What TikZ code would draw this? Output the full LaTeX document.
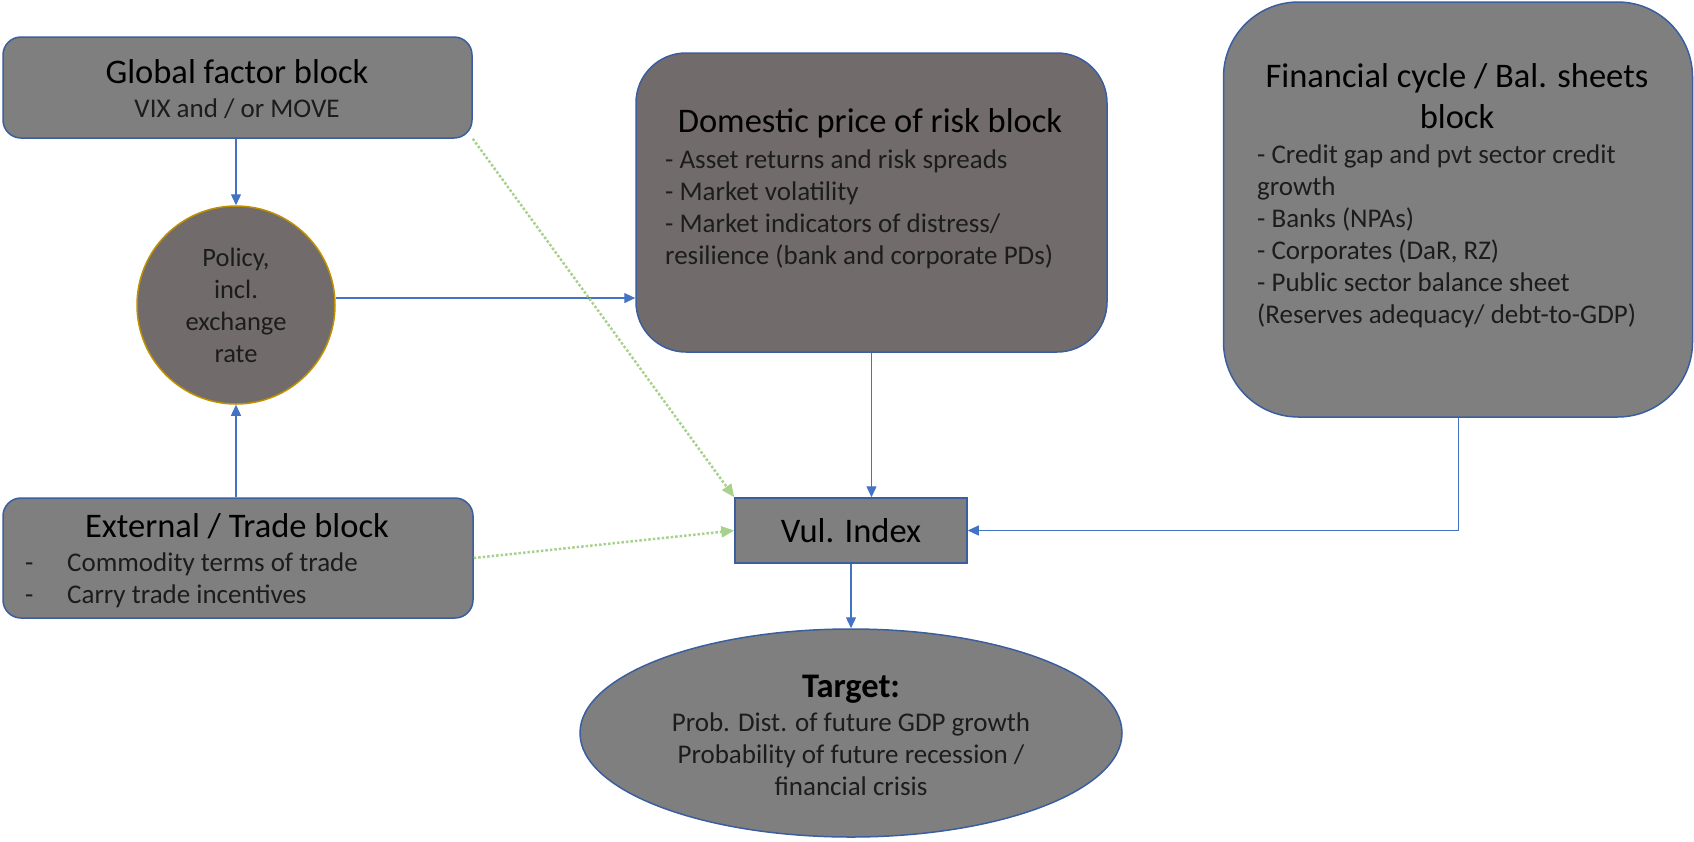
\documentclass[tikz,border=0pt]{standalone}
\usepackage{fontspec}
\setmainfont{Carlito}
\usepackage{tikz}
\usetikzlibrary{arrows.meta,shapes.geometric}
\definecolor{boxgray}{HTML}{7F7F7F}
\definecolor{riskgray}{HTML}{726B6B}
\definecolor{edgeblue}{HTML}{3A5E9E}
\definecolor{linkblue}{HTML}{4472C4}
\definecolor{linkgreen}{HTML}{A9D18E}
\definecolor{ringgold}{HTML}{BF9000}
\definecolor{inkgray}{HTML}{1C1C1C}

\begin{document}
\begin{tikzpicture}[x=1pt, y=-1pt,
  block/.style = {draw=edgeblue, line width=1.5pt, fill=boxgray, inner sep=0pt},
  head/.style = {font=\fontsize{34.5}{41}\selectfont, inner sep=0pt, anchor=base},
  items/.style = {font=\fontsize{27}{32}\selectfont, text=inkgray, align=left, inner sep=0pt, anchor=north west},
  link/.style = {draw=linkblue, line width=1.3pt, -{Triangle[length=11pt,width=10pt]}},
  hint/.style = {draw=linkgreen, line width=2.5pt, dotted, -{Triangle[length=13pt,width=11pt]}}]
\useasboundingbox (0,0) rectangle (1694,841);

% blocks
\node[block, rounded corners=18pt, minimum width=469pt, minimum height=101pt] (global) at (237.5,87.5) {};
\node[head] (globalhead) at (237,83) {Global factor block};
\node[head, font=\fontsize{27}{32}\selectfont, text=inkgray] (globalsub) at (237,117) {VIX and / or MOVE};

\node[circle, draw=ringgold, fill=riskgray, line width=1.5pt, minimum size=198pt, align=center,
  font=\fontsize{26.5}{32}\selectfont, text=inkgray] (policy) at (236,305) {Policy,\\incl.\\exchange\\rate};

\node[block, fill=riskgray, rounded corners=50pt, minimum width=471pt, minimum height=299pt] (domestic) at (871.5,202.5) {};
\node[head] (domestichead) at (870,132) {Domestic price of risk block};
\node[items] (domesticitems) at (665,150) {- Asset returns and risk spreads\\- Market volatility\\- Market indicators of distress/\\resilience (bank and corporate PDs)};

\node[block, rounded corners=75pt, minimum width=469pt, minimum height=415pt] (financial) at (1458,209.5) {};
\node[head] (financialhead) at (1457,87) {Financial cycle / Bal. sheets};
\node[head] (financialhead2) at (1457,128) {block};
\node[items] (financialitems) at (1257,145) {- Credit gap and pvt sector credit\\growth\\- Banks (NPAs)\\- Corporates (DaR, RZ)\\- Public sector balance sheet\\(Reserves adequacy/ debt-to-GDP)};

\node[block, rounded corners=18pt, minimum width=470pt, minimum height=120pt] (external) at (238,558) {};
\node[head] (externalhead) at (237,537) {External / Trade block};
\node[items] (externalitems) at (25,553) {\makebox[42pt][l]{-}Commodity terms of trade\\\makebox[42pt][l]{-}Carry trade incentives};

\node[block, minimum width=232pt, minimum height=65pt, font=\fontsize{34.5}{41}\selectfont] (vul) at (851,530.5) {Vul. Index};

\node[ellipse, draw=edgeblue, fill=boxgray, line width=1.5pt, minimum width=542pt, minimum height=208pt] (target) at (851,733) {};
\node[head, font=\bfseries\fontsize{34.5}{41}\selectfont] (targethead) at (851,697) {Target:};
\node[items, align=center, anchor=north] (targetitems) at (851,713) {Prob. Dist. of future GDP growth\\Probability of future recession /\\financial crisis};

% connectors
\draw[link] (policy.north |- global.south) -- (policy.north);
\draw[link] (policy.south |- external.north) -- (policy.south);
\draw[link] (policy.4.6) -- (policy.4.6 -| domestic.west);
\draw[link] (domestic.south) -- (domestic.south |- vul.north);
\draw[link, line width=1pt] (financial.south) -- (financial.south |- vul.east) -- (vul.east);
\draw[link] (vul.south) -- (target.north);
\draw[hint] (global.south east) -- (vul.north west);
\draw[hint] (external.east) -- (vul.west);
\end{tikzpicture}
\end{document}
